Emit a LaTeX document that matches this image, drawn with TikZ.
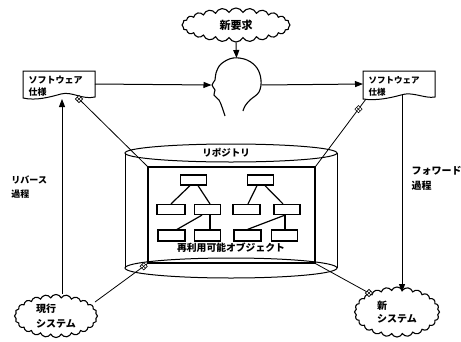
\documentclass[tikz,border=0pt]{standalone}
\usepackage{fontspec}
\newfontfamily\jp{Noto Sans CJK JP}
\usetikzlibrary{arrows.meta,shapes.symbols,shapes.geometric,calc}

\begin{document}
\begin{tikzpicture}[x=1pt,y=-1pt,line width=1pt,
  lbl/.style={font=\jp\bfseries\fontsize{9}{10}\selectfont, inner sep=0pt},
  wolke/.style={cloud, draw, cloud puffs=24, cloud puff arc=130, cloud ignores aspect,
    inner sep=0pt, line width=1.1pt, align=left},
  objbox/.style={draw, line width=1.2pt, minimum width=26pt, minimum height=10pt, inner sep=0pt},
  ghost/.style={inner sep=0pt, outer sep=0pt},
  tip/.style={-{Triangle[length=8pt,width=6pt]}},
  xmark/.style={diamond, draw, fill=white, minimum size=7.5pt, inner sep=0pt, line width=0.6pt,
    path picture={
      \draw[line width=0.5pt]
        ($(path picture bounding box.center)!0.5!(path picture bounding box.north west)$) --
        ($(path picture bounding box.center)!0.5!(path picture bounding box.south east)$)
        ($(path picture bounding box.center)!0.5!(path picture bounding box.north east)$) --
        ($(path picture bounding box.center)!0.5!(path picture bounding box.south west)$);}},
]
\fill[white] (0,0) rectangle (461,341);
\useasboundingbox (0,0) rectangle (461,341);

% --- clouds ---
\node[wolke, minimum width=108pt, minimum height=34pt, font=\jp\bfseries\fontsize{11}{12}\selectfont]
  (req) at (236,25) {新要求};
\node[wolke, minimum width=83pt, minimum height=43pt, font=\jp\bfseries\fontsize{10}{15}\selectfont]
  (cur) at (56,316) {現行\\システム};
\node[wolke, minimum width=85pt, minimum height=50pt, font=\jp\bfseries\fontsize{10}{13}\selectfont]
  (new) at (397,312) {新\\システム};

% --- head (profile) ---
\node[ghost, minimum width=50pt, minimum height=54pt] (head) at (236.5,85) {};
\draw[line width=1.1pt] plot[smooth, tension=0.6] coordinates {
  (225,116) (222,107) (219,100) (214,95) (215,90) (212,85) (215,80) (216,73)
  (221,64) (233,58) (247,60) (257,68) (261,80) (259,92) (250,100) (245,106) (243,111)};

% --- specification documents ---
\draw (23,71) -- (95,71) -- (95,97) .. controls (82,100) and (72,91) .. (61,94)
  .. controls (50,97) and (36,101) .. (23,98) -- cycle;
\node[ghost, minimum width=72pt, minimum height=26pt] (lspec) at (59,84) {};
\node[lbl, anchor=west] (lspecA) at (28,80) {ソフトウェア};
\node[lbl, anchor=west] (lspecB) at (28,92) {仕様};

\draw (363,71) -- (435,71) -- (435,97) .. controls (425,99) and (412,91) .. (401,95)
  .. controls (390,98) and (376,101) .. (363,99) -- cycle;
\node[ghost, minimum width=72pt, minimum height=26pt] (rspec) at (399,84) {};
\node[lbl, anchor=west, font=\jp\bfseries\fontsize{8.5}{10}\selectfont] (rspecA) at (368,80) {ソフトウェア};
\node[lbl, anchor=west, font=\jp\bfseries\fontsize{8.5}{10}\selectfont] (rspecB) at (368,92) {仕様};

% --- repository cylinder ---
\draw (231,153) ellipse [x radius=106pt, y radius=9pt];
\draw (125,153) -- (125,268);
\draw (337,153) -- (337,268);
\draw (231,268) ellipse [x radius=106pt, y radius=10pt];
\node[lbl, font=\jp\bfseries\fontsize{9.5}{10}\selectfont] (repo) at (226,153) {リポジトリ};

\node[draw, line width=1.3pt, minimum width=167pt, minimum height=96pt, inner sep=0pt] (objs) at (231.5,215) {};
\node[lbl, font=\jp\bfseries\fontsize{9.8}{10}\selectfont] (reuse) at (231,248) {再利用可能オブジェクト};

% --- object trees ---
\node[objbox] (T1) at (193.5,180) {};
\node[objbox, minimum width=28pt] (M1) at (171,209.5) {};
\node[objbox] (M2) at (207.5,209.5) {};
\node[objbox, minimum width=27pt, minimum height=11pt] (B1) at (171.5,235.5) {};
\node[objbox, minimum height=11pt] (B2) at (207.5,235.5) {};
\draw[line width=1.2pt] ([xshift=-3.5pt]T1.south) -- (M1.north);
\draw[line width=1.2pt] ([xshift=4.5pt]T1.south) -- ([xshift=2.5pt]M2.north);
\draw[line width=1.2pt] ([xshift=-5.5pt]M2.south) -- ([xshift=5.5pt]B1.north);
\draw[line width=1.2pt] ([xshift=2.5pt]M2.south) -- ([xshift=2.5pt]B2.north);

\node[objbox] (T2) at (260.5,180) {};
\node[objbox, minimum width=27pt] (M3) at (246.5,209.5) {};
\node[objbox] (M4) at (287,209.5) {};
\node[objbox, minimum width=27pt, minimum height=11pt] (B3) at (247.5,235.5) {};
\node[objbox, minimum height=11pt] (B4) at (284.5,235.5) {};
\draw[line width=1.2pt] ([xshift=-3.5pt]T2.south) -- ([xshift=1.5pt]M3.north);
\draw[line width=1.2pt] ([xshift=4.5pt]T2.south) -- ([xshift=-4pt]M4.north);
\draw[line width=1.2pt] ([xshift=-2pt]M4.south) -- (B3.north);
\draw[line width=1.2pt] ([xshift=-2pt]M4.south) -- ([xshift=0.5pt]B4.north);

% --- process flow arrows ---
\draw[tip] (req.south) -- (head.north);
\draw[tip] (lspec.east) -- (head.west);
\draw[tip] (head.east) -- (rspec.west);

\coordinate (lup) at (62,99);
\draw[tip] (cur.north -| lup) -- (lup);
\coordinate (rdown) at (402,95);
\coordinate (rdownend) at (402,292);
\draw[tip] (rdown) -- (rdownend);

% --- repository links ---
\coordinate (lfoot) at (79,99);
\draw[line width=0.8pt] (lfoot) -- (objs.north west) node[xmark, pos=0] {};
\coordinate (rfoot) at (366,99);
\draw[line width=0.8pt] (rfoot) -- (objs.north east) node[xmark, pos=0.15] {};
\coordinate (curedge) at (95,302);
\draw[line width=0.8pt] (curedge) -- (objs.south west) node[xmark, pos=0.93] {};
\coordinate (newedge) at (369,293);
\draw[line width=0.8pt] (objs.south east) -- (newedge) node[xmark, pos=1] {};

% --- process labels ---
\node[lbl, anchor=west] (revA) at (11,180) {リバース};
\node[lbl, anchor=west] (revB) at (11,194) {過程};
\node[lbl, anchor=west, font=\jp\bfseries\fontsize{10}{10}\selectfont] (fwdA) at (411,171) {フォワード};
\node[lbl, anchor=west, font=\jp\bfseries\fontsize{10}{10}\selectfont] (fwdB) at (411,186) {過程};
\end{tikzpicture}
\end{document}
